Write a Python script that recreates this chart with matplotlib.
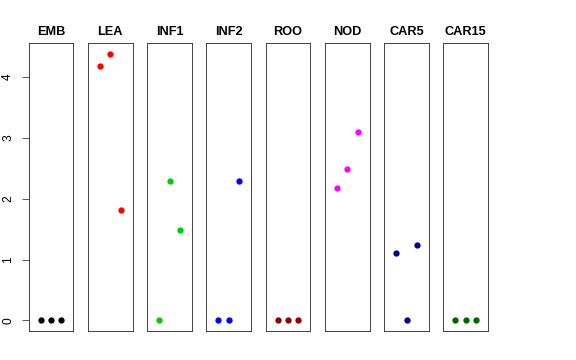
import matplotlib
matplotlib.use("Agg")
import matplotlib.pyplot as plt

categories = ["EMB", "LEA", "INF1", "INF2", "ROO", "NOD", "CAR5", "CAR15"]
colors = ["#000000", "#FF0000", "#00CD00", "#0000FF", "#8B0000", "#FF00FF", "#00008B", "#006400"]
x_pos = [1, 2, 3]
values = {
    "EMB": [0, 0, 0],
    "LEA": [4.18, 4.38, 1.81],
    "INF1": [0, 2.29, 1.48],
    "INF2": [0, 0, 2.285],
    "ROO": [0, 0, 0],
    "NOD": [2.175, 2.49, 3.09],
    "CAR5": [1.105, 0, 1.236],
    "CAR15": [0, 0, 0],
}
yticks = [0, 1, 2, 3, 4]

plt.rcParams['font.family'] = ['Liberation Sans', 'DejaVu Sans']
W, H = 576, 360
fig = plt.figure(figsize=(W / 72, H / 72), dpi=72)

left0 = 28.7
step = 59.25
pw = 44.6
top = 43.3
bot = 331.0
ymax = max(max(v) for v in values.values())
ext = 0.04 * ymax

for i, cat in enumerate(categories):
    x0 = left0 + i * step
    ax = fig.add_axes([x0 / W, 1 - bot / H, pw / W, (bot - top) / H])
    ax.plot(x_pos, values[cat], 'o', color=colors[i], markersize=6.3, markeredgewidth=0)
    ax.set_xlim(-0.16, 4.16)
    ax.set_ylim(-ext, ymax + ext)
    ax.set_xticks([])
    for s in ax.spines.values():
        s.set_linewidth(0.9)
        s.set_color("#333333")
    ax.set_title(cat, fontsize=12.8, fontweight='bold', pad=8)
    if i == 0:
        ax.set_yticks(yticks)
        ax.set_yticklabels([str(t) for t in yticks], rotation=90, va='center', fontsize=12)
        ax.tick_params(axis='y', length=7.5, width=0.8, pad=7, color="#333333")
    else:
        ax.set_yticks([])

fig.savefig("out.png", dpi=72)
